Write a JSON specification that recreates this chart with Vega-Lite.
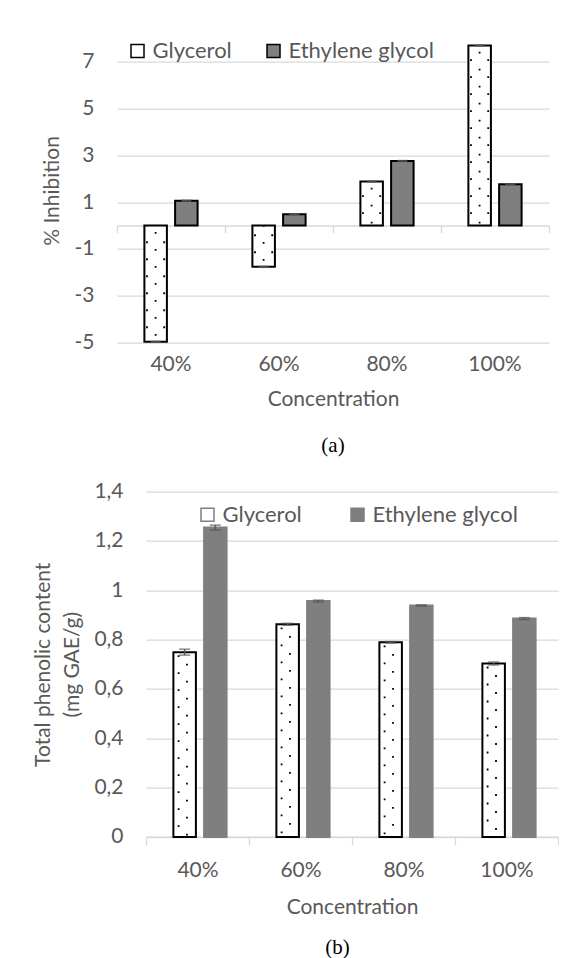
{
  "$schema": "https://vega.github.io/schema/vega-lite/v6.json",
  "background": "white",
  "padding": {"left": 32, "top": 38.6, "right": 0, "bottom": 0},
  "spacing": 24,
  "resolve": {"scale": {"fill": "independent"}, "legend": {"fill": "independent"}},
  "datasets": {
    "inhib": [
      {"Concentration": "40%", "Solvent": "Glycerol", "value": -4.98, "lo": -5.0, "hi": -4.96},
      {"Concentration": "40%", "Solvent": "Ethylene glycol", "value": 1.06, "lo": 1.04, "hi": 1.08},
      {"Concentration": "60%", "Solvent": "Glycerol", "value": -1.77, "lo": -1.79, "hi": -1.75},
      {"Concentration": "60%", "Solvent": "Ethylene glycol", "value": 0.48, "lo": 0.46, "hi": 0.5},
      {"Concentration": "80%", "Solvent": "Glycerol", "value": 1.88, "lo": 1.86, "hi": 1.9},
      {"Concentration": "80%", "Solvent": "Ethylene glycol", "value": 2.76, "lo": 2.74, "hi": 2.78},
      {"Concentration": "100%", "Solvent": "Glycerol", "value": 7.7, "lo": 7.68, "hi": 7.72},
      {"Concentration": "100%", "Solvent": "Ethylene glycol", "value": 1.76, "lo": 1.74, "hi": 1.78}
    ],
    "tpc": [
      {"Concentration": "40%", "Solvent": "Glycerol", "value": 0.749, "lo": 0.737, "hi": 0.761},
      {"Concentration": "40%", "Solvent": "Ethylene glycol", "value": 1.254, "lo": 1.244, "hi": 1.264},
      {"Concentration": "60%", "Solvent": "Glycerol", "value": 0.862, "lo": 0.858, "hi": 0.866},
      {"Concentration": "60%", "Solvent": "Ethylene glycol", "value": 0.956, "lo": 0.952, "hi": 0.96},
      {"Concentration": "80%", "Solvent": "Glycerol", "value": 0.789, "lo": 0.786, "hi": 0.792},
      {"Concentration": "80%", "Solvent": "Ethylene glycol", "value": 0.938, "lo": 0.935, "hi": 0.941},
      {"Concentration": "100%", "Solvent": "Glycerol", "value": 0.703, "lo": 0.697, "hi": 0.709},
      {"Concentration": "100%", "Solvent": "Ethylene glycol", "value": 0.885, "lo": 0.881, "hi": 0.889}
    ]
  },
  "vconcat": [
    {
      "width": 432,
      "height": 303.7,
      "data": {"name": "inhib"},
      "title": {"text": "(a)", "orient": "bottom", "frame": "group", "anchor": "middle", "font": "Liberation Serif", "fontSize": 21, "fontWeight": "normal", "color": "black", "offset": 25},
      "resolve": {"axis": {"x": "independent"}},
      "layer": [
        {
          "mark": {"type": "bar", "stroke": "black", "strokeWidth": 2},
          "encoding": {
            "x": {"field": "Concentration", "type": "nominal", "sort": ["40%", "60%", "80%", "100%"], "scale": {"paddingInner": 0, "paddingOuter": 0},
                  "axis": {"domain": false, "ticks": false, "labelAngle": 0, "labelPadding": 11.6, "title": "Concentration", "titlePadding": 14}},
            "xOffset": {"field": "Solvent", "type": "nominal", "sort": ["Glycerol", "Ethylene glycol"], "scale": {"domain": ["Glycerol", "Ethylene glycol"], "paddingInner": 0.267, "paddingOuter": 0.892}},
            "y": {"field": "value", "type": "quantitative", "title": "% Inhibition", "scale": {"domain": [-5, 8], "nice": false, "zero": false},
                  "axis": {"values": [-5, -3, -1, 1, 3, 5, 7], "labelExpr": "'' + datum.value", "grid": true, "gridWidth": 1.3, "domain": false, "ticks": false, "labelPadding": 23, "titlePadding": 11.7}},
            "fill": {"field": "Solvent", "type": "nominal", "sort": ["Glycerol", "Ethylene glycol"], "scale": {"domain": ["Glycerol", "Ethylene glycol"], "range": ["white", "#7f7f7f"]},
                     "legend": {"title": null, "orient": "none", "direction": "horizontal", "legendX": 9.5, "legendY": 1.5, "symbolType": "square", "symbolSize": 169, "symbolStrokeColor": "black", "symbolStrokeWidth": 1.5, "labelOffset": 4, "labelFontSize": 22, "columnPadding": 30}}
          }
        },
        {
          "transform": [{"filter": "datum.Solvent === 'Glycerol'"}],
          "mark": {"type": "rule", "color": "black", "strokeWidth": 1.8, "strokeDash": [1.8, 15.2], "strokeDashOffset": 10.9, "xOffset": -15.4},
          "encoding": {
            "x": {"field": "Concentration", "type": "nominal", "sort": ["40%", "60%", "80%", "100%"], "axis": null},
            "y": {"field": "value", "type": "quantitative", "title": "% Inhibition", "scale": {"domain": [-5, 8], "nice": false, "zero": false}}
          }
        },
        {
          "transform": [{"filter": "datum.Solvent === 'Glycerol'"}],
          "mark": {"type": "rule", "color": "black", "strokeWidth": 1.8, "strokeDash": [1.8, 15.2], "strokeDashOffset": 3.3, "xOffset": -24.0},
          "encoding": {
            "x": {"field": "Concentration", "type": "nominal", "sort": ["40%", "60%", "80%", "100%"], "axis": null},
            "y": {"field": "value", "type": "quantitative", "title": "% Inhibition", "scale": {"domain": [-5, 8], "nice": false, "zero": false}}
          }
        },
        {
          "transform": [{"filter": "datum.Solvent === 'Glycerol'"}],
          "mark": {"type": "rule", "color": "black", "strokeWidth": 1.8, "strokeDash": [1.8, 15.2], "strokeDashOffset": 3.3, "xOffset": -6.8},
          "encoding": {
            "x": {"field": "Concentration", "type": "nominal", "sort": ["40%", "60%", "80%", "100%"], "axis": null},
            "y": {"field": "value", "type": "quantitative", "title": "% Inhibition", "scale": {"domain": [-5, 8], "nice": false, "zero": false}}
          }
        },
        {
          "mark": {"type": "rule", "color": "#595959", "strokeWidth": 1.5},
          "encoding": {
            "x": {"field": "Concentration", "type": "nominal", "sort": ["40%", "60%", "80%", "100%"],
                  "axis": {"orient": "bottom", "offset": -116.8, "domain": true, "domainWidth": 1.5, "ticks": true, "tickBand": "extent", "tickSize": 7, "tickWidth": 1.3, "labels": false, "title": null, "grid": false}},
            "xOffset": {"field": "Solvent", "type": "nominal", "sort": ["Glycerol", "Ethylene glycol"], "scale": {"domain": ["Glycerol", "Ethylene glycol"], "paddingInner": 0.267, "paddingOuter": 0.892}},
            "y": {"field": "lo", "type": "quantitative", "title": "% Inhibition", "scale": {"domain": [-5, 8], "nice": false, "zero": false}},
            "y2": {"field": "hi"}
          }
        },
        {
          "mark": {"type": "tick", "orient": "horizontal", "color": "#595959", "thickness": 1.5, "size": 10},
          "encoding": {
            "x": {"field": "Concentration", "type": "nominal", "sort": ["40%", "60%", "80%", "100%"], "axis": null},
            "xOffset": {"field": "Solvent", "type": "nominal", "sort": ["Glycerol", "Ethylene glycol"], "scale": {"domain": ["Glycerol", "Ethylene glycol"], "paddingInner": 0.267, "paddingOuter": 0.892}},
            "y": {"field": "hi", "type": "quantitative", "title": "% Inhibition", "scale": {"domain": [-5, 8], "nice": false, "zero": false}}
          }
        },
        {
          "mark": {"type": "tick", "orient": "horizontal", "color": "#595959", "thickness": 1.5, "size": 10},
          "encoding": {
            "x": {"field": "Concentration", "type": "nominal", "sort": ["40%", "60%", "80%", "100%"], "axis": null},
            "xOffset": {"field": "Solvent", "type": "nominal", "sort": ["Glycerol", "Ethylene glycol"], "scale": {"domain": ["Glycerol", "Ethylene glycol"], "paddingInner": 0.267, "paddingOuter": 0.892}},
            "y": {"field": "lo", "type": "quantitative", "title": "% Inhibition", "scale": {"domain": [-5, 8], "nice": false, "zero": false}}
          }
        }
      ]
    },
    {
      "width": 441,
      "height": 345.3,
      "data": {"name": "tpc"},
      "title": {"text": "(b)", "orient": "bottom", "frame": "group", "anchor": "middle", "font": "Liberation Serif", "fontSize": 21, "fontWeight": "normal", "color": "black", "offset": 19},
      "layer": [
        {
          "mark": {"type": "bar", "strokeWidth": 2},
          "encoding": {
            "x": {"field": "Concentration", "type": "nominal", "sort": ["40%", "60%", "80%", "100%"], "scale": {"range": [29, 441], "paddingInner": 0, "paddingOuter": 0},
                  "axis": {"domain": true, "domainWidth": 1.5, "ticks": true, "tickBand": "extent", "tickSize": 8, "tickWidth": 1.3, "labelAngle": 0, "labelPadding": 15, "title": "Concentration", "titlePadding": 15.8}},
            "xOffset": {"field": "Solvent", "type": "nominal", "sort": ["Glycerol", "Ethylene glycol"], "scale": {"domain": ["Glycerol", "Ethylene glycol"], "paddingInner": 0.184, "paddingOuter": 0.844}},
            "y": {"field": "value", "type": "quantitative", "title": ["Total phenolic  content", "(mg GAE/g)"], "scale": {"domain": [0, 1.4], "nice": false},
                  "axis": {"values": [0, 0.2, 0.4, 0.6, 0.8, 1, 1.2, 1.4], "labelExpr": "replace(format(datum.value, '.1~f'), '.', ',')", "offset": -29, "grid": true, "gridWidth": 1.3, "domain": false, "ticks": false, "labelPadding": 23, "titlePadding": 11, "titleLineHeight": 29}},
            "fill": {"field": "Solvent", "type": "nominal", "sort": ["Glycerol", "Ethylene glycol"], "scale": {"domain": ["Glycerol", "Ethylene glycol"], "range": ["white", "#7f7f7f"]},
                     "legend": {"title": null, "orient": "none", "direction": "horizontal", "legendX": 79.5, "legendY": 12.1, "symbolType": "square", "symbolSize": 169, "symbolStrokeWidth": 1.5, "labelOffset": 4, "labelFontSize": 22, "columnPadding": 44,
                                "encode": {"symbols": {"update": {"stroke": {"signal": "datum.value === 'Glycerol' ? 'black' : '#7f7f7f'"}}}}}},
            "stroke": {"condition": {"test": "datum.Solvent === 'Glycerol'", "value": "black"}, "value": "#7f7f7f"}
          }
        },
        {
          "transform": [{"filter": "datum.Solvent === 'Glycerol'"}],
          "mark": {"type": "rule", "color": "black", "strokeWidth": 1.8, "strokeDash": [1.8, 15.2], "strokeDashOffset": 13.9, "xOffset": -18.9},
          "encoding": {
            "x": {"field": "Concentration", "type": "nominal", "sort": ["40%", "60%", "80%", "100%"]},
            "y": {"field": "value", "type": "quantitative", "title": ["Total phenolic  content", "(mg GAE/g)"], "scale": {"domain": [0, 1.4], "nice": false}}
          }
        },
        {
          "transform": [{"filter": "datum.Solvent === 'Glycerol'"}],
          "mark": {"type": "rule", "color": "black", "strokeWidth": 1.8, "strokeDash": [1.8, 15.2], "strokeDashOffset": 5.4, "xOffset": -10.5},
          "encoding": {
            "x": {"field": "Concentration", "type": "nominal", "sort": ["40%", "60%", "80%", "100%"]},
            "y": {"field": "value", "type": "quantitative", "title": ["Total phenolic  content", "(mg GAE/g)"], "scale": {"domain": [0, 1.4], "nice": false}}
          }
        },
        {
          "mark": {"type": "rule", "color": "#595959", "strokeWidth": 1.5},
          "encoding": {
            "x": {"field": "Concentration", "type": "nominal", "sort": ["40%", "60%", "80%", "100%"]},
            "xOffset": {"field": "Solvent", "type": "nominal", "sort": ["Glycerol", "Ethylene glycol"], "scale": {"domain": ["Glycerol", "Ethylene glycol"], "paddingInner": 0.184, "paddingOuter": 0.844}},
            "y": {"field": "lo", "type": "quantitative", "title": ["Total phenolic  content", "(mg GAE/g)"], "scale": {"domain": [0, 1.4], "nice": false}},
            "y2": {"field": "hi"}
          }
        },
        {
          "mark": {"type": "tick", "orient": "horizontal", "color": "#595959", "thickness": 1.5, "size": 11},
          "encoding": {
            "x": {"field": "Concentration", "type": "nominal", "sort": ["40%", "60%", "80%", "100%"]},
            "xOffset": {"field": "Solvent", "type": "nominal", "sort": ["Glycerol", "Ethylene glycol"], "scale": {"domain": ["Glycerol", "Ethylene glycol"], "paddingInner": 0.184, "paddingOuter": 0.844}},
            "y": {"field": "hi", "type": "quantitative", "title": ["Total phenolic  content", "(mg GAE/g)"], "scale": {"domain": [0, 1.4], "nice": false}}
          }
        },
        {
          "mark": {"type": "tick", "orient": "horizontal", "color": "#595959", "thickness": 1.5, "size": 11},
          "encoding": {
            "x": {"field": "Concentration", "type": "nominal", "sort": ["40%", "60%", "80%", "100%"]},
            "xOffset": {"field": "Solvent", "type": "nominal", "sort": ["Glycerol", "Ethylene glycol"], "scale": {"domain": ["Glycerol", "Ethylene glycol"], "paddingInner": 0.184, "paddingOuter": 0.844}},
            "y": {"field": "lo", "type": "quantitative", "title": ["Total phenolic  content", "(mg GAE/g)"], "scale": {"domain": [0, 1.4], "nice": false}}
          }
        }
      ]
    }
  ],
  "config": {
    "font": "Lato",
    "view": {"stroke": null},
    "axis": {"labelFont": "Lato", "titleFont": "Lato", "labelColor": "#595959", "titleColor": "#595959", "labelFontSize": 21, "titleFontSize": 21, "titleFontWeight": "normal", "gridColor": "#d9d9d9", "domainColor": "#d9d9d9", "tickColor": "#d9d9d9"},
    "legend": {"labelFont": "Lato", "labelFontSize": 21, "labelColor": "#595959", "padding": 0}
  }
}
